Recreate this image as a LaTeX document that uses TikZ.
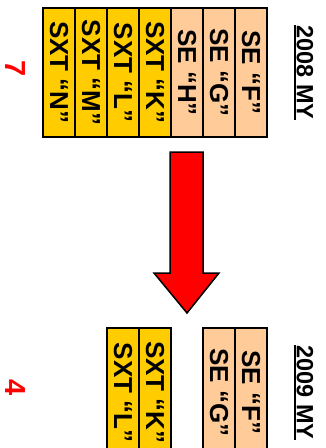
\documentclass[tikz,border=0pt]{standalone}
\usepackage{fontspec}
\setmainfont{Liberation Sans}
\definecolor{sxtyellow}{HTML}{FFCC00}
\definecolor{sepeach}{HTML}{FFCC99}
\definecolor{redmark}{HTML}{FF0000}
\begin{document}
\begin{tikzpicture}[x=1pt,y=-1pt,
  col/.style={draw=black, line width=2.5pt, rotate=-90, minimum width=129pt, minimum height=32pt, inner sep=0pt,
    font=\fontsize{26}{26}\selectfont\bfseries},
  sxt/.style={col, fill=sxtyellow},
  se/.style={col, fill=sepeach},
  year/.style={rotate=-90, inner xsep=0pt, inner ysep=1.5pt, font=\fontsize{23.5}{23.5}\selectfont\bfseries},
  count/.style={rotate=-90, inner sep=0pt, text=redmark, font=\fontsize{29}{29}\selectfont\bfseries}]
\useasboundingbox (0,0) rectangle (326,448);
\clip (0,0) rectangle (326,448);
% 2008
\node[sxt] (n) at (59,72.5) {SXT “N”};
\node[sxt] (m) at (91,72.5) {SXT “M”};
\node[sxt] (l) at (123,72.5) {SXT “L”};
\node[sxt] (k) at (155,72.5) {SXT “K”};
\node[se] (h) at (187,72.5) {SE “H”};
\node[se] (g) at (219,72.5) {SE “G”};
\node[se] (f) at (251,72.5) {SE “F”};
\node[year] (y8) at (305,72.5) {2008 MY};
\draw[line width=2.5pt] (y8.south west) -- (y8.south east);
\node[count] (c7) at (15.5,69) {7};
% 2009
\node[sxt] (l2) at (123,392.5) {SXT “L”};
\node[sxt] (k2) at (155,392.5) {SXT “K”};
\node[se] (g2) at (219,392.5) {SE “G”};
\node[se] (f2) at (251,392.5) {SE “F”};
\node[year] (y9) at (305,392.5) {2009 MY};
\draw[line width=2.5pt] (y9.south west) -- (y9.south east);
\node[count] (c4) at (15.5,388) {4};
% arrow
\draw[fill=redmark, line width=1.5pt, line join=miter]
  (170,152) -- (203,152) -- (203,273) -- (219,273) -- (187,313) -- (154,273) -- (170,273) -- cycle;
\end{tikzpicture}
\end{document}
